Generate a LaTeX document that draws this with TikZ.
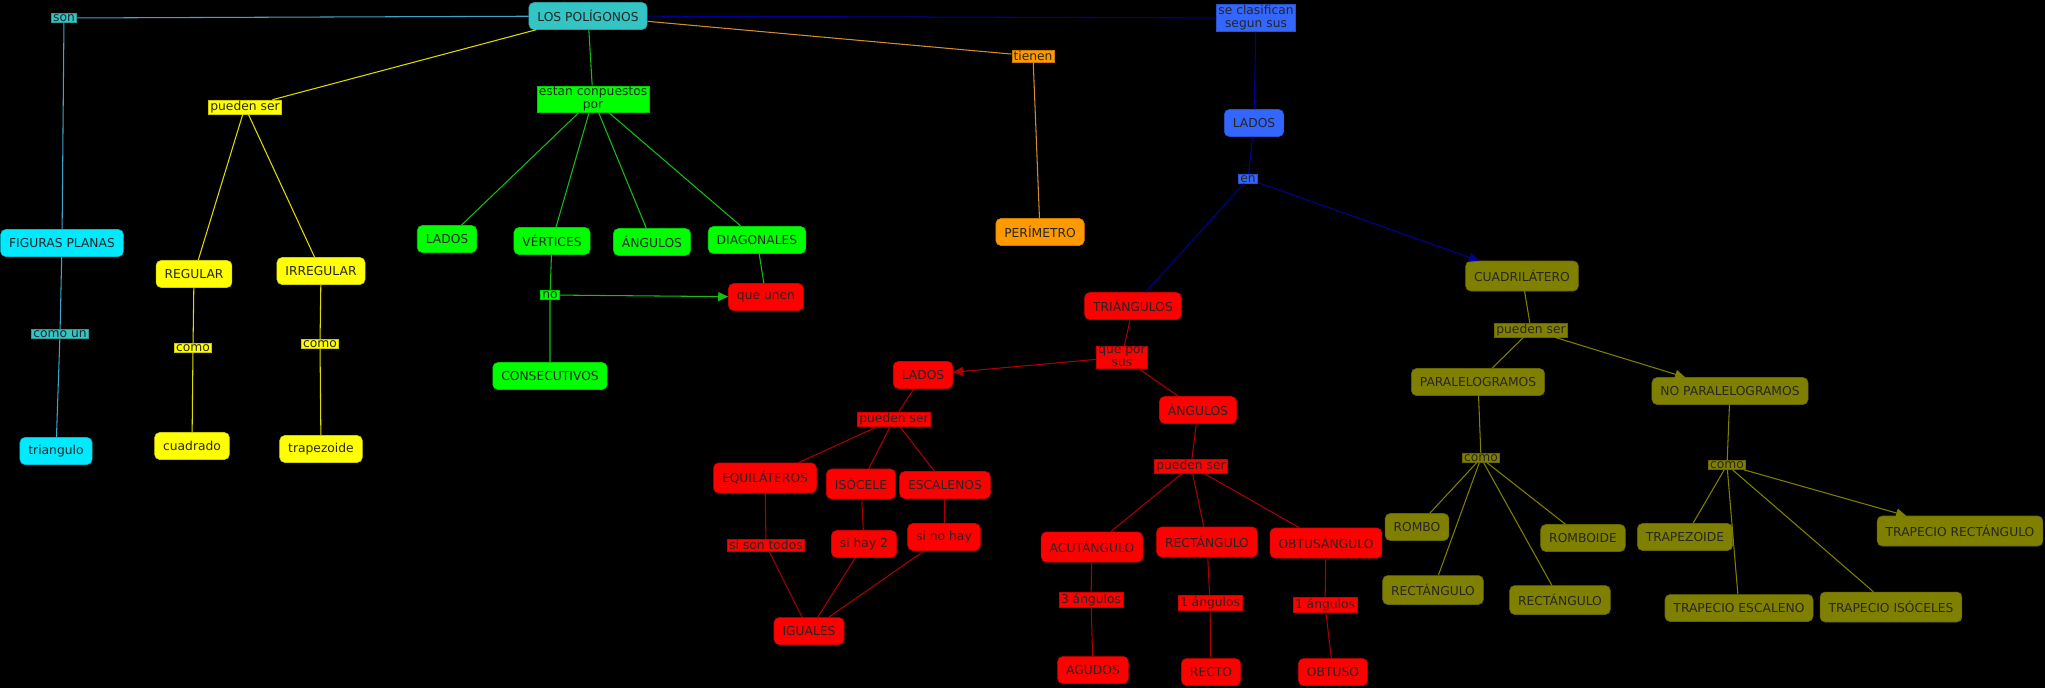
\documentclass[tikz,border=0pt]{standalone}
\usepackage{fontspec}
\setmainfont{DejaVu Sans}
\usepackage{tikz}
\usetikzlibrary{arrows.meta}

\definecolor{turquesa}{RGB}{51,196,196}
\definecolor{cian}{RGB}{0,234,255}
\definecolor{amarillo}{RGB}{255,255,0}
\definecolor{verde}{RGB}{0,255,0}
\definecolor{naranja}{RGB}{255,153,0}
\definecolor{azul}{RGB}{51,102,255}
\definecolor{rojo}{RGB}{255,0,0}
\definecolor{oliva}{RGB}{128,128,0}
\definecolor{lcian}{RGB}{60,165,200}
\definecolor{lamarillo}{RGB}{220,220,0}
\definecolor{lverde}{RGB}{20,190,20}
\definecolor{lnaranja}{RGB}{210,140,50}
\definecolor{lazul}{RGB}{0,0,150}
\definecolor{lrojo}{RGB}{170,0,0}
\definecolor{loliva}{RGB}{128,128,0}

\begin{document}
\begin{tikzpicture} [x=0.02cm, y=-0.02cm,
	font=\fontsize{7}{7.5}\selectfont,
	concepto/.style={rounded corners=0.1cm, inner xsep=0.17cm, inner ysep=0pt,
		minimum height=0.54cm, text=black!85, fill=#1, draw=#1!80!black, line width=0.3pt},
	enlace/.style={inner xsep=1pt, inner ysep=0.6pt, align=center, text=black!85,
		fill=#1, draw=#1!80!black, line width=0.3pt},
	linea/.style={draw=#1, line width=0.6pt},
	flecha/.style={draw=#1, line width=0.6pt, -{Triangle[length=0.2cm, width=0.18cm]}}]
	
	\useasboundingbox (0,0) rectangle (2045,687);
	\fill[black] (-10,-10) rectangle (2055,697);
	
	% raiz
	\node[concepto=turquesa] (poli) at (588,16) {LOS POLÍGONOS};
	
	% figuras planas
	\node[enlace=turquesa] (son) at (64,18) {son};
	\node[concepto=cian] (figuras) at (62,243) {FIGURAS PLANAS};
	\node[enlace=turquesa] (comoun) at (60,334) {como un};
	\node[concepto=cian] (triang) at (56,451) {triangulo};
	
	% regular / irregular
	\node[enlace=amarillo] (puedenA) at (245,107) {pueden ser};
	\node[concepto=amarillo] (regular) at (194,274) {REGULAR};
	\node[concepto=amarillo] (irregular) at (321,271) {IRREGULAR};
	\node[enlace=amarillo] (comoA) at (193,348) {como};
	\node[enlace=amarillo] (comoB) at (320,344) {como};
	\node[concepto=amarillo] (cuadrado) at (192,446) {cuadrado};
	\node[concepto=amarillo] (trapezA) at (321,449) {trapezoide};
	
	% elementos
	\node[enlace=verde] (compuestos) at (593,99) {estan conpuestos\\por};
	\node[concepto=verde] (ladosG) at (447,239) {LADOS};
	\node[concepto=verde] (vertices) at (552,241) {VÉRTICES};
	\node[concepto=verde] (angulosG) at (652,242) {ÁNGULOS};
	\node[concepto=verde] (diagonales) at (757,240) {DIAGONALES};
	\node[enlace=verde] (no) at (550,295) {no};
	\node[concepto=rojo] (queunen) at (766,297) {que unen};
	\node[concepto=verde] (consec) at (550,376) {CONSECUTIVOS};
	
	% perimetro
	\node[enlace=naranja] (tienen) at (1033,56) {tienen};
	\node[concepto=naranja] (perimetro) at (1040,232) {PERÍMETRO};
	
	% clasificacion
	\node[enlace=azul] (clasif) at (1256,18) {se clasifican\\segun sus};
	\node[concepto=azul] (ladosB) at (1254,123) {LADOS};
	\node[enlace=azul] (en) at (1248,179) {en};
	
	% triangulos
	\node[concepto=rojo] (triangulos) at (1133,306) {TRIÁNGULOS};
	\node[enlace=rojo] (queporsus) at (1122,357) {que por\\sus};
	\node[concepto=rojo] (ladosR) at (923,375) {LADOS};
	\node[concepto=rojo] (angulosR) at (1198,410) {ÁNGULOS};
	\node[enlace=rojo] (puedenL) at (894,419) {pueden ser};
	\node[concepto=rojo, minimum height=0.6cm] (equi) at (765,478) {EQUILÁTEROS};
	\node[concepto=rojo, minimum height=0.6cm] (isoc) at (861,484) {ISÓCELE};
	\node[concepto=rojo] (escal) at (945,485) {ESCALENOS};
	\node[enlace=rojo] (sisontodos) at (766,545) {si son todos};
	\node[concepto=rojo] (sihay) at (864,544) {si hay 2};
	\node[concepto=rojo] (sinohay) at (944,537) {si no hay};
	\node[concepto=rojo] (iguales) at (809,631) {IGUALES};
	\node[enlace=rojo] (puedenR) at (1191,466) {pueden ser};
	\node[concepto=rojo, minimum height=0.6cm] (acut) at (1092,547) {ACUTÁNGULO};
	\node[concepto=rojo, minimum height=0.6cm] (rect) at (1207,542) {RECTÁNGULO};
	\node[concepto=rojo, minimum height=0.6cm] (obtus) at (1326,543) {OBTUSÁNGULO};
	\node[enlace=rojo] (tres) at (1091,600) {3 ángulos};
	\node[enlace=rojo] (unoA) at (1210,603) {1 ángulos};
	\node[enlace=rojo] (unoB) at (1325,605) {1 ángulos};
	\node[concepto=rojo] (agudos) at (1093,670) {AGUDOS};
	\node[concepto=rojo] (recto) at (1211,672) {RECTO};
	\node[concepto=rojo] (obtuso) at (1333,672) {OBTUSO};
	
	% cuadrilateros
	\node[concepto=oliva, minimum height=0.6cm] (cuadri) at (1522,276) {CUADRILÁTERO};
	\node[enlace=oliva] (puedenQ) at (1531,330) {pueden ser};
	\node[concepto=oliva] (paral) at (1478,382) {PARALELOGRAMOS};
	\node[concepto=oliva] (noparal) at (1730,391) {NO PARALELOGRAMOS};
	\node[enlace=oliva] (comoP) at (1481,458) {como};
	\node[enlace=oliva] (comoN) at (1727,465) {como};
	\node[concepto=oliva] (rombo) at (1417,527) {ROMBO};
	\node[concepto=oliva] (romboide) at (1583,538) {ROMBOIDE};
	\node[concepto=oliva, minimum height=0.58cm] (rectP) at (1433,590) {RECTÁNGULO};
	\node[concepto=oliva, minimum height=0.58cm] (rectQ) at (1560,600) {RECTÁNGULO};
	\node[concepto=oliva] (trapezoide) at (1685,537) {TRAPEZOIDE};
	\node[concepto=oliva, minimum height=0.6cm] (traprect) at (1960,531) {TRAPECIO RECTÁNGULO};
	\node[concepto=oliva] (trapesc) at (1739,608) {TRAPECIO ESCALENO};
	\node[concepto=oliva, minimum height=0.6cm] (trapiso) at (1891,607) {TRAPECIO ISÓCELES};
	
	% conectores
	\draw[linea=lcian] (poli) -- (son) -- (figuras) -- (comoun) -- (triang);
	
	\draw[linea=lamarillo] (poli) -- (puedenA);
	\foreach \n in {regular, irregular}
		\draw[linea=lamarillo] (puedenA) -- (\n);
	\draw[linea=lamarillo] (regular) -- (comoA) -- (cuadrado);
	\draw[linea=lamarillo] (irregular) -- (comoB) -- (trapezA);
	
	\draw[linea=lverde] (poli) -- (compuestos);
	\foreach \n in {ladosG, vertices, angulosG, diagonales}
		\draw[linea=lverde] (compuestos) -- (\n);
	\draw[linea=lverde] (vertices) -- (no) -- (consec);
	\draw[flecha=lverde] (no) -- (queunen);
	\draw[linea=lverde] (diagonales) -- (queunen);
	
	\draw[linea=lnaranja] (poli) -- (tienen) -- (perimetro);
	
	\draw[linea=lazul] (poli) -- (clasif) -- (ladosB) -- (en) -- (triangulos);
	\draw[flecha=lazul] (en) -- (cuadri);
	
	\draw[linea=lrojo] (triangulos) -- (queporsus) -- (angulosR);
	\draw[flecha=lrojo] (queporsus) -- (ladosR);
	\draw[linea=lrojo] (ladosR) -- (puedenL);
	\foreach \n in {equi, isoc, escal}
		\draw[linea=lrojo] (puedenL) -- (\n);
	\draw[linea=lrojo] (equi) -- (sisontodos) -- (iguales);
	\draw[linea=lrojo] (isoc) -- (sihay) -- (iguales);
	\draw[linea=lrojo] (escal) -- (sinohay) -- (iguales);
	\draw[linea=lrojo] (angulosR) -- (puedenR);
	\foreach \n in {acut, rect, obtus}
		\draw[linea=lrojo] (puedenR) -- (\n);
	\draw[linea=lrojo] (acut) -- (tres) -- (agudos);
	\draw[linea=lrojo] (rect) -- (unoA) -- (recto);
	\draw[linea=lrojo] (obtus) -- (unoB) -- (obtuso);
	
	\draw[linea=loliva] (cuadri) -- (puedenQ) -- (paral);
	\draw[flecha=loliva] (puedenQ) -- (noparal);
	\draw[linea=loliva] (paral) -- (comoP);
	\foreach \n in {rombo, rectP, rectQ, romboide}
		\draw[linea=loliva] (comoP) -- (\n);
	\draw[linea=loliva] (noparal) -- (comoN);
	\foreach \n in {trapezoide, trapesc, trapiso}
		\draw[linea=loliva] (comoN) -- (\n);
	\draw[flecha=loliva] (comoN) -- (traprect);
	
\end{tikzpicture}
\end{document}
